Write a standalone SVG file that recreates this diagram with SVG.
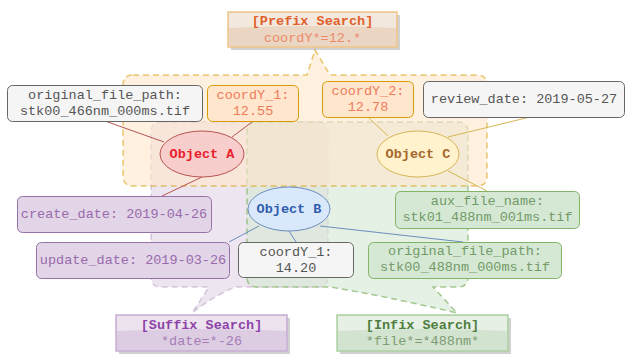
<svg xmlns="http://www.w3.org/2000/svg" width="629" height="354" viewBox="0 0 629 354">
<defs>
<style>
text{font-family:"Liberation Mono","Courier New",monospace;font-size:13.5px;text-anchor:middle;dominant-baseline:central}
.b{font-weight:bold}
.reg{stroke-width:1.5;stroke-dasharray:6 4}
.node{stroke-width:1}
.gl{fill:#ffffff;fill-opacity:0.45}
.sh{fill:#000;fill-opacity:0.18}
</style>
</defs>
<rect width="629" height="354" fill="#ffffff"/>
<g id="regions">
<g id="suffix-region">
<path class="reg" d="M161,122 H318 Q328,122 328,132 V277 Q328,287 318,287 H235 Q212,297 192,313 L209,287 H161 Q151,287 151,277 V132 Q151,122 161,122 Z" fill="#e1d5e7" fill-opacity="0.6" stroke="#9673a6" stroke-opacity="0.35"/>
</g>
<g id="infix-region">
<path class="reg" d="M257,122 H458 Q468,122 468,132 V277 Q468,287 458,287 H433 L457,313 Q385,296 330,287 H257 Q247,287 247,277 V132 Q247,122 257,122 Z" fill="#d5e8d4" fill-opacity="0.6" stroke="#82b366" stroke-opacity="0.7"/>
</g>
<g id="prefix-region">
<path class="reg" d="M133,75 H307 L315,50 L330,75 H477 Q487,75 487,85 V176 Q487,186 477,186 H133 Q123,186 123,176 V85 Q123,75 133,75 Z" fill="#ffe6cc" fill-opacity="0.6" stroke="#d79b00" stroke-opacity="0.55"/>
</g>
</g>
<g id="connectors" fill="none" stroke-width="1">
<line x1="105" y1="121" x2="164" y2="142" stroke="#b85450"/>
<line x1="252" y1="122" x2="232" y2="137" stroke="#b85450"/>
<line x1="202" y1="177" x2="162" y2="196" stroke="#b85450"/>
<line x1="368" y1="117" x2="388" y2="136" stroke="#d6b656"/>
<line x1="448" y1="137" x2="530" y2="117" stroke="#d6b656"/>
<line x1="448" y1="171" x2="487" y2="191" stroke="#d6b656"/>
<line x1="259" y1="226" x2="229" y2="242" stroke="#6c8ebf"/>
<line x1="289" y1="231" x2="296" y2="242" stroke="#6c8ebf"/>
<line x1="320" y1="226" x2="463" y2="242" stroke="#6c8ebf"/>
</g>
<g id="prefix-search">
<rect class="sh" x="231" y="15" width="169" height="35"/>
<rect x="228" y="12" width="169" height="35" fill="#ead6c2" stroke="#f0c68a" stroke-width="1.5"/>
<path class="gl" d="M229,13 H396 V28 Q312,24 229,28 Z"/>
<text class="b" x="312.5" y="21" fill="#e0602c">[Prefix Search]</text>
<text x="312.5" y="38" fill="#ec8a6a">coordY*=12.*</text>
</g>
<g id="suffix-search">
<rect class="sh" x="119" y="318" width="171" height="36"/>
<rect x="116" y="315" width="171" height="36" fill="#dccde2" stroke="#c8aed5" stroke-width="1.5"/>
<path class="gl" d="M117,316 H286 V331 Q201,327 117,331 Z"/>
<text class="b" x="201.5" y="325" fill="#8e44a8">[Suffix Search]</text>
<text x="201.5" y="341" fill="#a67cb8">*date=*-26</text>
</g>
<g id="infix-search">
<rect class="sh" x="340" y="318" width="171" height="36"/>
<rect x="337" y="315" width="171" height="36" fill="#d2e3cf" stroke="#acd1a2" stroke-width="1.5"/>
<path class="gl" d="M338,316 H507 V331 Q422,327 338,331 Z"/>
<text class="b" x="422.5" y="325" fill="#4e7d3e">[Infix Search]</text>
<text x="422.5" y="341" fill="#7e9c74">*file*=*488nm*</text>
</g>
<g id="a-original-file-path">
<rect class="node" x="7.5" y="85.5" width="195" height="36" rx="5" fill="#f5f5f5" stroke="#666666"/>
<text x="105" y="95" fill="#555555">original_file_path:</text>
<text x="105" y="111" fill="#555555">stk00_466nm_000ms.tif</text>
</g>
<g id="a-coordy-1">
<rect class="node" x="207.5" y="85.5" width="91" height="36" rx="5" fill="#ffe6cc" stroke="#d79b00"/>
<text x="253" y="95" fill="#ee7b5c">coordY_1:</text>
<text x="253" y="111" fill="#ee7b5c">12.55</text>
</g>
<g id="c-coordy-2">
<rect class="node" x="322.5" y="81.5" width="91" height="36" rx="5" fill="#ffe6cc" stroke="#d79b00"/>
<text x="368" y="91" fill="#ee7b5c">coordY_2:</text>
<text x="368" y="107" fill="#ee7b5c">12.78</text>
</g>
<g id="c-review-date">
<rect class="node" x="423.5" y="81.5" width="201" height="36" rx="5" fill="#f5f5f5" stroke="#666666"/>
<text x="524" y="99" fill="#555555">review_date: 2019-05-27</text>
</g>
<g id="object-a">
<ellipse class="node" cx="202" cy="154" rx="42" ry="23" fill="#f8cecc" stroke="#b85450"/>
<text class="b" x="202" y="154" fill="#e8202c">Object A</text>
</g>
<g id="object-c">
<ellipse class="node" cx="418" cy="154" rx="41" ry="23" fill="#fff2cc" stroke="#d6b656"/>
<text class="b" x="418" y="154" fill="#a6682c">Object C</text>
</g>
<g id="object-b">
<ellipse class="node" cx="289" cy="209" rx="41" ry="22" fill="#dae8fc" stroke="#6c8ebf"/>
<text class="b" x="289" y="209" fill="#2f5eac">Object B</text>
</g>
<g id="a-create-date">
<rect class="node" x="17.5" y="196.5" width="194" height="36" rx="5" fill="#e1d5e7" stroke="#9673a6"/>
<text x="114" y="214" fill="#9a6aac">create_date: 2019-04-26</text>
</g>
<g id="b-update-date">
<rect class="node" x="36.5" y="242.5" width="193" height="36" rx="5" fill="#e1d5e7" stroke="#9673a6"/>
<text x="133" y="260" fill="#9a6aac">update_date: 2019-03-26</text>
</g>
<g id="b-coordy-1">
<rect class="node" x="238.5" y="242.5" width="115" height="35" rx="5" fill="#f5f5f5" stroke="#666666"/>
<text x="296" y="252" fill="#555555">coordY_1:</text>
<text x="296" y="268" fill="#555555">14.20</text>
</g>
<g id="c-aux-file-name">
<rect class="node" x="395.5" y="191.5" width="184" height="37" rx="5" fill="#d5e8d4" stroke="#82b366"/>
<text x="487.5" y="201" fill="#739a68">aux_file_name:</text>
<text x="487.5" y="217" fill="#739a68">stk01_488nm_001ms.tif</text>
</g>
<g id="b-original-file-path">
<rect class="node" x="368.5" y="242.5" width="193" height="36" rx="5" fill="#d5e8d4" stroke="#82b366"/>
<text x="465" y="251" fill="#739a68">original_file_path:</text>
<text x="465" y="267" fill="#739a68">stk00_488nm_000ms.tif</text>
</g>
</svg>
